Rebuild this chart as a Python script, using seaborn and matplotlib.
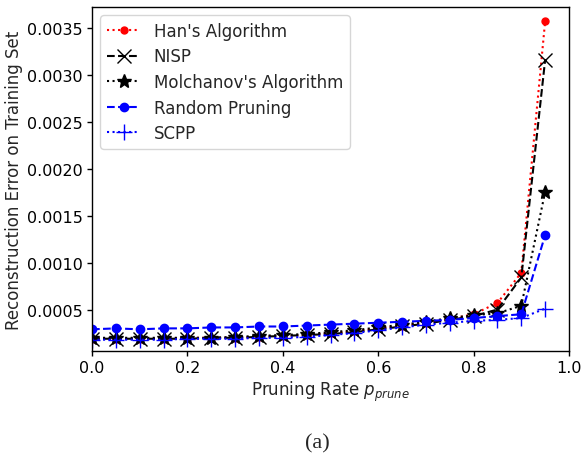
import numpy as np
import pandas as pd
import matplotlib
matplotlib.use("Agg")
import matplotlib.pyplot as plt
import seaborn as sns

# pruning rates and reconstruction errors
rates = [0.0, 0.05, 0.1, 0.15, 0.2, 0.25, 0.3, 0.35, 0.4, 0.45,
         0.5, 0.55, 0.6, 0.65, 0.7, 0.75, 0.8, 0.85, 0.9, 0.95]
han = [0.00020, 0.00020, 0.00020, 0.00020, 0.00021, 0.00021, 0.00021, 0.00022, 0.00023, 0.00024,
       0.00026, 0.00028, 0.00031, 0.00034, 0.00037, 0.00041, 0.00046, 0.00058, 0.00090, 0.00357]
nisp = [0.00020, 0.00020, 0.00020, 0.00020, 0.00020, 0.00021, 0.00021, 0.00022, 0.00023, 0.00024,
        0.00025, 0.00027, 0.00030, 0.00033, 0.00036, 0.00040, 0.00044, 0.00051, 0.00085, 0.00316]
molchanov = [0.00021, 0.00021, 0.00021, 0.00021, 0.00021, 0.00021, 0.00022, 0.00023, 0.00024, 0.00025,
             0.00027, 0.00029, 0.00032, 0.00035, 0.00038, 0.00042, 0.00045, 0.00047, 0.00055, 0.00176]
random_pruning = [0.00030, 0.00031, 0.00030, 0.00031, 0.00031, 0.00032, 0.00032, 0.00033, 0.00033, 0.00034,
                  0.00035, 0.00036, 0.00037, 0.00038, 0.00039, 0.00040, 0.00042, 0.00044, 0.00046, 0.00130]
scpp = [0.00019, 0.00019, 0.00019, 0.00019, 0.00020, 0.00020, 0.00020, 0.00021, 0.00021, 0.00022,
        0.00024, 0.00026, 0.00029, 0.00032, 0.00035, 0.00037, 0.00039, 0.00040, 0.00042, 0.00052]

sns.set_style("ticks")
plt.rcParams['font.family'] = ['DejaVu Sans']
plt.rcParams['font.size'] = 12

fig, ax = plt.subplots(figsize=(5.81, 4.6), dpi=100)
fig.subplots_adjust(left=92/581, right=569/581, top=1-8/460, bottom=1-352/460)

# label, values, colour, linestyle, marker, markersize, edge width
series = [
    ("Han's Algorithm", han, "red", ":", "o", 5, 1.0),
    ("NISP", nisp, "black", "--", "x", 10, 1.0),
    ("Molchanov's Algorithm", molchanov, "black", ":", "*", 10, 1.0),
    ("Random Pruning", random_pruning, "blue", "--", "o", 6, 1.0),
    ("SCPP", scpp, "blue", ":", "+", 12, 1.0),
]
for name, vals, c, ls, mk, ms, mew in series:
    sns.lineplot(x=rates, y=vals, ax=ax, color=c, linestyle=ls, marker=mk,
                 markersize=ms, markeredgecolor=c, markeredgewidth=mew,
                 linewidth=1.5, label=name)

ax.set_xlim(0, 1.0)
ax.set_ylim(0.00007, 0.00372)
ax.set_xticks([0.0, 0.2, 0.4, 0.6, 0.8, 1.0])
ax.set_yticks([0.0005, 0.0010, 0.0015, 0.0020, 0.0025, 0.0030, 0.0035])
ax.set_yticklabels(["0.0005", "0.0010", "0.0015", "0.0020", "0.0025", "0.0030", "0.0035"])
ax.set_xlabel("Pruning Rate $p_{prune}$", labelpad=3)
ax.set_ylabel("Reconstruction Error on Training Set", labelpad=3)
for s in ax.spines.values():
    s.set_color("black")
    s.set_linewidth(1.0)
ax.tick_params(colors="black", direction="out", length=3.5, width=1, pad=3,
               labelsize=11.5)

ax.legend(loc="upper left", fontsize=12, frameon=True, framealpha=0.8,
          edgecolor="0.8", fancybox=True, handlelength=2.0, labelspacing=0.45)

fig.text(0.547, 1 - 444/460, "(a)", ha="center", va="center",
         fontsize=16, family="Liberation Serif")

fig.savefig("out.png", dpi=100)
